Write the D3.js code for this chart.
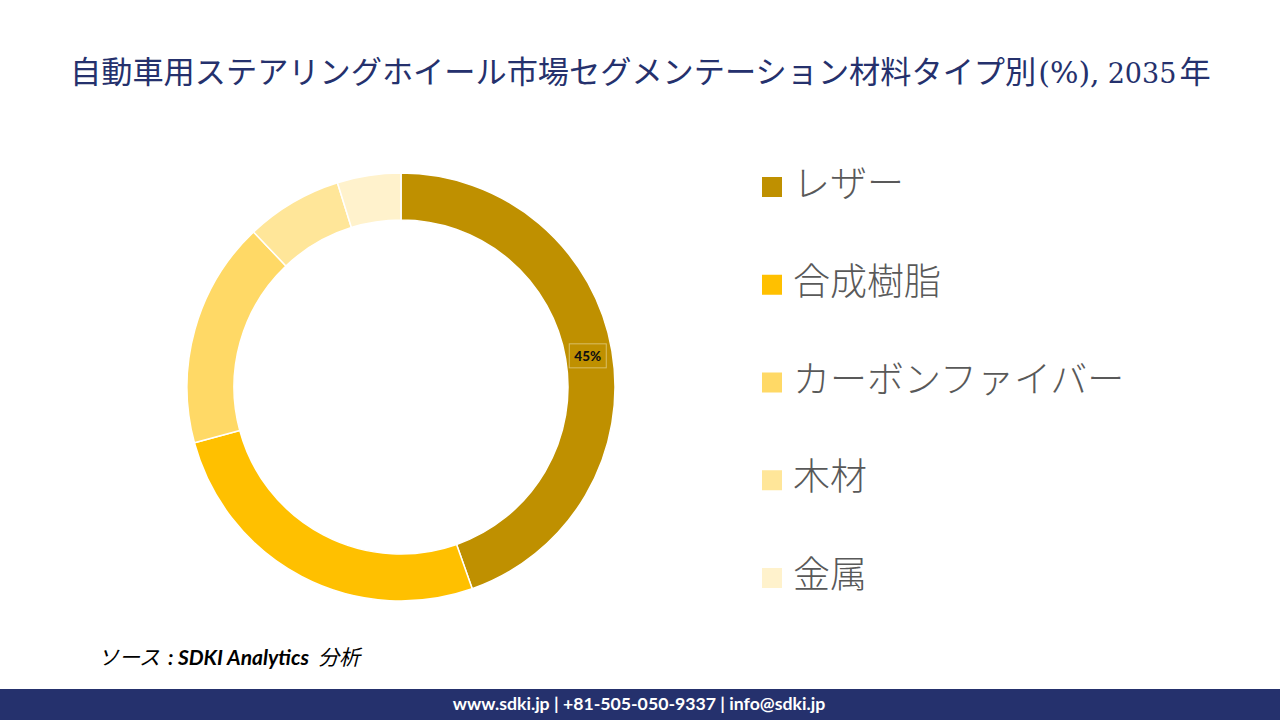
<!DOCTYPE html>
<html lang="ja">
<head>
<meta charset="UTF-8">
<title>自動車用ステアリングホイール市場</title>
<script src="https://d3js.org/d3.v7.min.js"></script>
<style>
    html, body { margin: 0; padding: 0; background: #fff; }
    svg { display: block; }
</style>
</head>
<body>
<script>
    var categories = ['レザー', '合成樹脂', 'カーボンファイバー', '木材', '金属'];
    var shares = [44.6, 26.2, 17.1, 7.3, 4.8];
    var colors = ['#bf9000', '#ffc000', '#ffd966', '#ffe699', '#fff2cc'];
    var titleMain = '自動車用ステアリングホイール市場セグメンテーション材料タイプ別';
    var titleUnit = '(%),';
    var titleYear = '2035';
    var titleEnd = '年';
    var footerText = 'www.sdki.jp | +81-505-050-9337 | info@sdki.jp';

    var w = 1280, h = 720;
    var cx = 401, cy = 387, outer = 214, inner = 167;

    var svg = d3.select('body').append('svg')
        .attr('width', w)
        .attr('height', h);

    // title, pieces sized apart because the latin glyphs come from another font
    var title = svg.append('text')
        .attr('x', 70).attr('y', 83)
        .style('font-family', '"DejaVu Serif", "Noto Sans CJK JP", serif')
        .style('font-size', '31.2px')
        .attr('fill', '#25316d');
    title.append('tspan').text(titleMain);
    title.append('tspan').attr('dx', 2).style('font-size', '30px').text(titleUnit);
    title.append('tspan').attr('dx', 8).style('font-size', '27px').text(titleYear);
    title.append('tspan').attr('dx', 3).text(titleEnd);

    // donut
    var pie = d3.pie().sort(null).value(d => d)(shares);
    var arc = d3.arc().innerRadius(inner).outerRadius(outer);
    var donut = svg.append('g').attr('transform', 'translate(' + cx + ',' + cy + ')');

    donut.selectAll('path')
        .data(pie)
        .enter()
        .append('path')
        .attr('d', arc)
        .attr('fill', (d, i) => colors[i])
        .attr('stroke', '#fff')
        .attr('stroke-width', 1.5);

    // label only on the first slice
    var c = arc.centroid(pie[0]);
    var label = donut.append('g').attr('transform', 'translate(' + c[0] + ',' + c[1] + ')');
    label.append('rect')
        .attr('x', -19.5).attr('y', -11)
        .attr('width', 37).attr('height', 24)
        .attr('fill', 'none')
        .attr('stroke', '#d9bf66')
        .attr('stroke-width', 1);
    label.append('text')
        .attr('x', -1).attr('y', 6)
        .attr('text-anchor', 'middle')
        .style('font-family', 'Lato, sans-serif')
        .style('font-size', '13.5px')
        .style('font-weight', 900)
        .attr('fill', '#111')
        .text(Math.round(shares[0]) + '%');

    // legend
    var legendY = d3.scalePoint()
        .domain(categories)
        .range([185, 576]);

    var legend = svg.selectAll('g.legend')
        .data(categories)
        .enter()
        .append('g')
        .attr('class', 'legend')
        .attr('transform', d => 'translate(0,' + legendY(d) + ')');

    legend.append('rect')
        .attr('x', 762).attr('y', -8)
        .attr('width', 20).attr('height', 20)
        .attr('fill', (d, i) => colors[i]);

    legend.append('text')
        .attr('x', 793).attr('y', 12)
        .style('font-family', '"Noto Sans CJK JP", sans-serif')
        .style('font-size', '37px')
        .style('font-weight', 300)
        .attr('fill', '#595959')
        .text(d => d);

    // source
    var source = svg.append('text')
        .attr('x', 98).attr('y', 665)
        .attr('xml:space', 'preserve')
        .style('font-family', 'Lato, "Noto Sans CJK JP", sans-serif')
        .style('font-size', '21px')
        .style('font-style', 'italic')
        .attr('fill', '#000');
    source.append('tspan').text('ソース ');
    source.append('tspan').attr('dx', 3).style('font-weight', 700).text(': SDKI Analytics');
    source.append('tspan').attr('dx', 9).text('分析');

    // footer band
    svg.append('rect')
        .attr('x', 0).attr('y', 689)
        .attr('width', w).attr('height', 31)
        .attr('fill', '#25316d');
    svg.append('text')
        .attr('x', 639).attr('y', 710)
        .attr('text-anchor', 'middle')
        .style('font-family', 'Lato, sans-serif')
        .style('font-size', '17.7px')
        .style('font-weight', 700)
        .attr('fill', '#fff')
        .text(footerText);
</script>
</body>
</html>
